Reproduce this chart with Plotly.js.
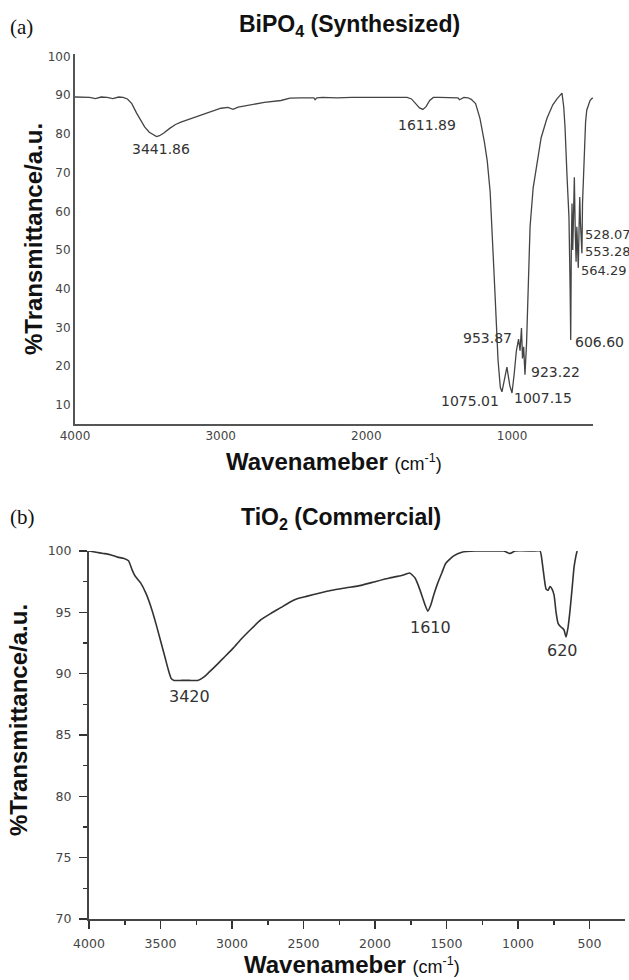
<!DOCTYPE html>
<html>
<head>
<meta charset="utf-8">
<script src="https://cdn.plot.ly/plotly-3.0.1.min.js"></script>
<style>
  html, body { margin: 0; padding: 0; background: #fff; }
  #chart { width: 629px; height: 980px; }
</style>
</head>
<body>
<div id="chart"></div>
<script>
// ---------- (a) BiPO4 (Synthesized) ----------
const bipoWavenumber = [
  4000, 3950, 3900, 3860, 3820, 3780, 3740, 3700, 3670, 3640, 3610, 3578, 3550, 3522, 3490, 3460, 3440,
  3420, 3390, 3350, 3310, 3273, 3200, 3135, 3060, 2998, 2950, 2915, 2880, 2805, 2700, 2586, 2524,
  2450, 2400, 2360, 2352, 2340, 2300, 2200, 2100, 2000, 1900, 1800, 1720, 1690, 1660, 1635, 1612,
  1590, 1565, 1540, 1500, 1450, 1400, 1371, 1360, 1330, 1302, 1280, 1250, 1220, 1190, 1170, 1150,
  1137, 1117, 1096, 1080, 1069, 1050, 1035, 1015, 1000, 985, 970, 955, 945, 935, 928, 920, 911,
  900, 890, 876, 855, 828, 800, 760, 720, 691, 670, 657, 645, 636, 622, 609, 601, 597, 593, 588,
  583, 578, 572, 566, 560, 555, 550, 545, 540, 535, 530, 525, 520, 516, 505, 495, 487, 475, 465,
  455, 446
];
const bipoTransmittance = [
  89.5, 89.5, 89.4, 89.1, 89.5, 89.4, 89.1, 89.5, 89.4, 89.0, 87.8, 85.4, 83.4, 81.8, 80.4, 79.6, 79.3,
  79.5, 80.2, 81.4, 82.4, 83.0, 84.0, 84.8, 85.8, 86.6, 86.8, 86.3, 86.9, 87.4, 88.1, 88.6, 89.2,
  89.3, 89.4, 89.3, 88.8, 89.3, 89.4, 89.3, 89.4, 89.4, 89.3, 89.4, 89.4, 89.0, 87.8, 86.7, 86.3,
  87.0, 88.6, 89.4, 89.4, 89.4, 89.4, 89.3, 88.8, 89.4, 89.3, 88.9, 87.8, 84.0, 78.0, 73.0, 65.0,
  56.0, 39.0, 21.6, 14.5, 13.4, 17.0, 19.8, 15.0, 13.1, 18.0, 24.0, 27.0, 24.0, 29.9, 22.0, 25.0, 17.8,
  26.0, 40.0, 56.0, 66.0, 73.0, 79.0, 84.0, 87.5, 89.0, 90.0, 90.5, 87.0, 81.7, 68.8, 58.5, 40.0, 26.8, 50.0, 62.0,
  50.0, 60.0, 68.8, 55.0, 47.0, 56.0, 52.0, 45.4, 55.0, 63.7, 57.0, 52.0, 49.2, 62.0, 76.0, 83.0, 86.1, 87.5, 88.5,
  89.0, 89.3
];
const bipoPeakLabels = ["3441.86", "1611.89", "953.87", "923.22", "1075.01", "1007.15", "606.60", "564.29", "553.28", "528.07"];
const bipoXTicks = [4000, 3000, 2000, 1000];
const bipoYTicks = [10, 20, 30, 40, 50, 60, 70, 80, 90, 100];

// ---------- (b) TiO2 (Commercial) ----------
const tioWavenumber = [
  4000, 3950, 3900, 3850, 3800, 3760, 3724, 3700, 3680, 3639, 3600, 3560, 3530, 3500, 3470, 3445, 3425,
  3405, 3350, 3300, 3240, 3200, 3162, 3100, 3049, 2990, 2937, 2870, 2797, 2730, 2657, 2600, 2545, 2480, 2378,
  2300, 2200, 2098, 2000, 1900, 1814, 1758, 1720, 1701, 1670, 1650, 1631, 1610, 1590, 1561, 1530,
  1505, 1450, 1393, 1300, 1200, 1100, 1056, 1020, 900, 846, 830, 818, 804, 790, 776, 762, 748, 734,
  720, 700, 680, 664, 650, 636, 620, 608, 595, 587
];
const tioTransmittance = [
  100.0, 99.9, 99.8, 99.7, 99.5, 99.4, 99.2, 98.5, 98.0, 97.4, 96.5, 95.2, 94.0, 92.7, 91.4, 90.3, 89.6,
  89.45, 89.45, 89.45, 89.45, 89.7, 90.1, 90.8, 91.4, 92.1, 92.8, 93.6, 94.4, 94.9, 95.4, 95.8, 96.1, 96.3, 96.6,
  96.8, 97.0, 97.2, 97.5, 97.8, 98.0, 98.2, 97.8, 97.3, 96.3, 95.6, 95.1, 95.6, 96.4, 97.4, 98.3,
  99.0, 99.6, 99.9, 100.0, 100.0, 100.0, 99.8, 100.0, 100.0, 100.0, 99.0, 97.9, 96.9, 96.8, 97.1, 96.9, 96.4, 95.0,
  94.1, 93.8, 93.6, 93.0, 93.8, 95.2, 97.2, 98.7, 99.6, 100.0
];
const tioPeakLabels = ["3420", "1610", "620"];
const tioXTicks = [4000, 3500, 3000, 2500, 2000, 1500, 1000, 500];
const tioYTicks = [70, 75, 80, 85, 90, 95, 100];

// ---------- label placement (data coordinates of each label) ----------
const bipoLabelPlace = [
  [3410, 76.0, "center", 14], [1584, 82.3, "center", 14], [993, 27.3, "right", 14], [876, 18.5, "left", 14],
  [1083, 11.0, "right", 14], [993, 11.8, "left", 14], [574, 26.3, "left", 14], [533, 44.8, "left", 13],
  [505, 49.7, "left", 13], [505, 53.9, "left", 13]
];
const tioLabelPlace = [[3297, 88.1], [1612, 93.8], [692, 91.9]];

const W = 629, H = 980;
const px = v => v / W, py = v => 1 - v / H;

const sans = "Liberation Sans, Arial, sans-serif";
const tickFamily = "DejaVu Sans, Verdana, sans-serif";

const traces = [
  { x: bipoWavenumber, y: bipoTransmittance, xaxis: "x", yaxis: "y", type: "scatter", mode: "lines",
    line: { color: "#444", width: 1.3 }, cliponaxis: false, hoverinfo: "skip" },
  { x: tioWavenumber, y: tioTransmittance, xaxis: "x2", yaxis: "y2", type: "scatter", mode: "lines",
    line: { color: "#333", width: 1.6, shape: "spline", smoothing: 0.5 }, cliponaxis: false, hoverinfo: "skip" }
];

const annotations = [];
bipoPeakLabels.forEach((t, i) => {
  const p = bipoLabelPlace[i];
  annotations.push({ xref: "x", yref: "y", x: p[0], y: p[1], text: t, showarrow: false,
    xanchor: p[2], yanchor: "middle", borderpad: 0,
    font: { family: tickFamily, size: p[3], color: "#333" } });
});
tioPeakLabels.forEach((t, i) => {
  const p = tioLabelPlace[i];
  annotations.push({ xref: "x2", yref: "y2", x: p[0], y: p[1], text: t, showarrow: false,
    xanchor: "center", yanchor: "middle", borderpad: 0,
    font: { family: tickFamily, size: 16, color: "#333" } });
});
// panel letters and titles
annotations.push(
  { xref: "paper", yref: "paper", x: px(21), y: py(27), text: "(a)", showarrow: false, xanchor: "center", yanchor: "middle",
    font: { family: "Liberation Serif, Times New Roman, serif", size: 21, color: "#111" } },
  { xref: "paper", yref: "paper", x: px(22), y: py(517), text: "(b)", showarrow: false, xanchor: "center", yanchor: "middle",
    font: { family: "Liberation Serif, Times New Roman, serif", size: 21, color: "#111" } },
  { xref: "paper", yref: "paper", x: px(350), y: py(26), text: "<b>BiPO<sub>4</sub> (Synthesized)</b>", showarrow: false,
    xanchor: "center", yanchor: "middle", font: { family: sans, size: 23, color: "#111" } },
  { xref: "paper", yref: "paper", x: px(341), y: py(518), text: "<b>TiO<sub>2</sub> (Commercial)</b>", showarrow: false,
    xanchor: "center", yanchor: "middle", font: { family: sans, size: 23, color: "#111" } },
  // axis titles
  { xref: "paper", yref: "paper", x: px(334), y: py(461), showarrow: false, xanchor: "center", yanchor: "middle",
    text: "<b>Wavenameber</b> <span style='font-size:18px;font-weight:normal'>(cm<sup>-1</sup>)</span>",
    font: { family: sans, size: 24, color: "#111" } },
  { xref: "paper", yref: "paper", x: px(352), y: py(964), showarrow: false, xanchor: "center", yanchor: "middle",
    text: "<b>Wavenameber</b> <span style='font-size:18px;font-weight:normal'>(cm<sup>-1</sup>)</span>",
    font: { family: sans, size: 24, color: "#111" } },
  { xref: "paper", yref: "paper", x: px(33), y: py(239), showarrow: false, xanchor: "center", yanchor: "middle",
    textangle: -90, text: "<b>%Transmittance/a.u.</b>", font: { family: sans, size: 24, color: "#111" } },
  { xref: "paper", yref: "paper", x: px(18), y: py(720), showarrow: false, xanchor: "center", yanchor: "middle",
    textangle: -90, text: "<b>%Transmittance/a.u.</b>", font: { family: sans, size: 24, color: "#111" } }
);

const tickFontTop = { family: tickFamily, size: 12, color: "#444" };
const tickFontBot = { family: tickFamily, size: 12.5, color: "#444" };

const layout = {
  width: W, height: H,
  margin: { l: 0, r: 0, t: 0, b: 0 },
  paper_bgcolor: "#fff", plot_bgcolor: "rgba(0,0,0,0)",
  showlegend: false,
  xaxis: {
    domain: [px(75), px(593)], anchor: "y", range: [4000, 444],
    tickmode: "array", tickvals: bipoXTicks, ticktext: bipoXTicks.map(String),
    ticks: "", showline: true, linecolor: "#555", linewidth: 2, mirror: false,
    showgrid: false, zeroline: false, tickfont: tickFontTop, ticklabelstandoff: 0, fixedrange: true
  },
  yaxis: {
    domain: [py(424), py(54)], anchor: "x", range: [5.1, 100.6],
    tickmode: "array", tickvals: bipoYTicks, ticktext: bipoYTicks.map(String),
    ticks: "", showline: true, linecolor: "#555", linewidth: 2,
    showgrid: false, zeroline: false, tickfont: tickFontTop, ticklabelstandoff: 0, fixedrange: true
  },
  xaxis2: {
    domain: [px(89), px(625)], anchor: "y2", range: [4000, 252],
    tickmode: "array", tickvals: tioXTicks, ticktext: tioXTicks.map(String),
    ticks: "outside", ticklen: 8, tickwidth: 1.5, tickcolor: "#333",
    minor: { ticks: "outside", ticklen: 4, tickwidth: 1.5, tickcolor: "#333", tickmode: "linear", tick0: 0, dtick: 250 },
    showline: true, linecolor: "#444", linewidth: 2,
    showgrid: false, zeroline: false, tickfont: tickFontBot, ticklabelstandoff: 4, fixedrange: true
  },
  yaxis2: {
    domain: [py(919), py(551)], anchor: "x2", range: [70, 100],
    tickmode: "array", tickvals: tioYTicks, ticktext: tioYTicks.map(String),
    ticks: "outside", ticklen: 8, tickwidth: 1.5, tickcolor: "#333",
    minor: { ticks: "outside", ticklen: 4, tickwidth: 1.5, tickcolor: "#333", tickmode: "linear", tick0: 0, dtick: 2.5 },
    showline: true, linecolor: "#444", linewidth: 2,
    showgrid: false, zeroline: false, tickfont: tickFontBot, ticklabelstandoff: 5, fixedrange: true
  },
  annotations: annotations
};

Plotly.newPlot("chart", traces, layout, { staticPlot: true, displayModeBar: false });
</script>
</body>
</html>
